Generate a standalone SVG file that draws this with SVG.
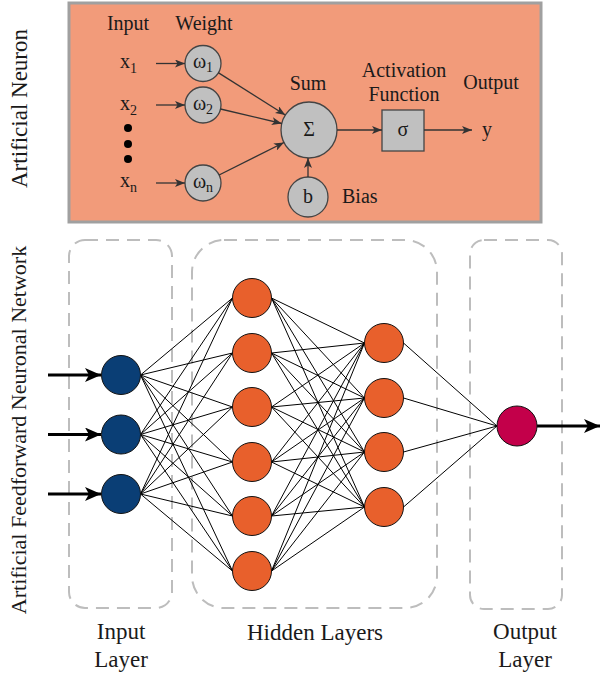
<svg xmlns="http://www.w3.org/2000/svg" width="600" height="676" viewBox="0 0 600 676">
<defs>
<marker id="ah" markerUnits="userSpaceOnUse" markerWidth="10" markerHeight="8" refX="10" refY="4" orient="auto">
<path d="M0,0 L10,4 L0,8 L2.5,4 z" fill="#333"/>
</marker>
<marker id="ahb" markerUnits="userSpaceOnUse" markerWidth="16" markerHeight="14" refX="16" refY="7" orient="auto">
<path d="M0,0 L16,7 L0,14 L4,7 z" fill="#000"/>
</marker>
</defs>

<g id="neuron-box">
<rect x="69" y="3" width="472" height="219" fill="#f29b7a" stroke="#a0a0a0" stroke-width="3"/>
</g>

<g id="side-labels">
<text font-family="Liberation Serif, Times New Roman, serif" font-size="23" fill="#1a1a1a" transform="translate(27,108.5) rotate(-90)" text-anchor="middle">Artificial Neuron</text>
<text font-family="Liberation Serif, Times New Roman, serif" font-size="22" fill="#1a1a1a" transform="translate(26,430) rotate(-90)" text-anchor="middle">Artificial Feedforward Neuronal Network</text>
</g>

<g id="neuron-labels">
<text font-family="Liberation Serif, Times New Roman, serif" font-size="20" fill="#1a1a1a" x="128" y="30" text-anchor="middle">Input</text>
<text font-family="Liberation Serif, Times New Roman, serif" font-size="20" fill="#1a1a1a" x="204" y="30" text-anchor="middle">Weight</text>
<text font-family="Liberation Serif, Times New Roman, serif" font-size="20" fill="#1a1a1a" x="308" y="90" text-anchor="middle">Sum</text>
<text font-family="Liberation Serif, Times New Roman, serif" font-size="20" fill="#1a1a1a" x="404" y="77" text-anchor="middle">Activation</text>
<text font-family="Liberation Serif, Times New Roman, serif" font-size="20" fill="#1a1a1a" x="404" y="101" text-anchor="middle">Function</text>
<text font-family="Liberation Serif, Times New Roman, serif" font-size="20" fill="#1a1a1a" x="491" y="89" text-anchor="middle">Output</text>
<text font-family="Liberation Serif, Times New Roman, serif" font-size="20" fill="#1a1a1a" x="342" y="203">Bias</text>
<text font-family="Liberation Serif, Times New Roman, serif" font-size="20" fill="#1a1a1a" x="487" y="136" text-anchor="middle">y</text>
</g>

<g id="inputs">
<text font-family="Liberation Serif, Times New Roman, serif" font-size="20" fill="#1a1a1a" x="120" y="68">x<tspan font-size="14" dy="5">1</tspan></text>
<text font-family="Liberation Serif, Times New Roman, serif" font-size="20" fill="#1a1a1a" x="120" y="110">x<tspan font-size="14" dy="5">2</tspan></text>
<text font-family="Liberation Serif, Times New Roman, serif" font-size="20" fill="#1a1a1a" x="120" y="187">x<tspan font-size="14" dy="5">n</tspan></text>
<circle cx="128" cy="128" r="4" fill="#000"/>
<circle cx="128" cy="144" r="4" fill="#000"/>
<circle cx="128" cy="159" r="4" fill="#000"/>
</g>

<g id="w1"><circle cx="203" cy="63.5" r="18" fill="#c0c0c0" stroke="#444" stroke-width="1.3"/><text font-family="Liberation Serif, Times New Roman, serif" font-size="20" fill="#1a1a1a" x="203" y="68" text-anchor="middle">ω<tspan font-size="14" dy="4">1</tspan></text></g>
<g id="w2"><circle cx="203" cy="105" r="18" fill="#c0c0c0" stroke="#444" stroke-width="1.3"/><text font-family="Liberation Serif, Times New Roman, serif" font-size="20" fill="#1a1a1a" x="203" y="109.5" text-anchor="middle">ω<tspan font-size="14" dy="4">2</tspan></text></g>
<g id="wn"><circle cx="203" cy="183" r="18" fill="#c0c0c0" stroke="#444" stroke-width="1.3"/><text font-family="Liberation Serif, Times New Roman, serif" font-size="20" fill="#1a1a1a" x="203" y="187.5" text-anchor="middle">ω<tspan font-size="14" dy="4">n</tspan></text></g>
<g id="sum"><circle cx="309" cy="130" r="28" fill="#c0c0c0" stroke="#444" stroke-width="1.3"/><text font-family="Liberation Serif, Times New Roman, serif" font-size="20" fill="#1a1a1a" x="309" y="136" text-anchor="middle">Σ</text></g>
<g id="bias"><circle cx="308" cy="197" r="20" fill="#c0c0c0" stroke="#444" stroke-width="1.3"/><text font-family="Liberation Serif, Times New Roman, serif" font-size="20" fill="#1a1a1a" x="308" y="203" text-anchor="middle">b</text></g>
<g id="sigma"><rect x="382" y="110" width="42" height="41" fill="#c0c0c0" stroke="#444" stroke-width="1.3"/><text font-family="Liberation Serif, Times New Roman, serif" font-size="20" fill="#1a1a1a" x="403" y="136" text-anchor="middle">σ</text></g>

<g id="neuron-connectors" stroke="#333" stroke-width="1.3" fill="none">
<line x1="156" y1="63.5" x2="185" y2="63.5" marker-end="url(#ah)"/>
<line x1="156" y1="105" x2="185" y2="105" marker-end="url(#ah)"/>
<line x1="156" y1="183" x2="185" y2="183" marker-end="url(#ah)"/>
<line x1="218.2" y1="72.6" x2="285.3" y2="115" marker-end="url(#ah)"/>
<line x1="220.5" y1="109" x2="281.8" y2="123.5" marker-end="url(#ah)"/>
<line x1="219.1" y1="175" x2="284" y2="142.5" marker-end="url(#ah)"/>
<line x1="308" y1="177" x2="308" y2="158" marker-end="url(#ah)"/>
<line x1="337" y1="130" x2="382" y2="130" marker-end="url(#ah)"/>
<line x1="424" y1="130" x2="472" y2="130" marker-end="url(#ah)"/>
</g>

<g id="layer-frames" fill="none" stroke="#bdbdbd" stroke-width="2" stroke-dasharray="13 8">
<rect x="69" y="240" width="103" height="368" rx="16"/>
<rect x="192" y="240" width="245" height="368" rx="32"/>
<rect x="470" y="240" width="92" height="369" rx="14"/>
</g>

<g id="connectors" stroke="#000" stroke-width="1">
<line x1="140.5" y1="375" x2="232.5" y2="298"/><line x1="140.5" y1="375" x2="232.5" y2="353"/><line x1="140.5" y1="375" x2="232.5" y2="407"/><line x1="140.5" y1="375" x2="232.5" y2="462"/><line x1="140.5" y1="375" x2="232.5" y2="516"/><line x1="140.5" y1="375" x2="232.5" y2="571"/>
<line x1="140.5" y1="434.5" x2="232.5" y2="298"/><line x1="140.5" y1="434.5" x2="232.5" y2="353"/><line x1="140.5" y1="434.5" x2="232.5" y2="407"/><line x1="140.5" y1="434.5" x2="232.5" y2="462"/><line x1="140.5" y1="434.5" x2="232.5" y2="516"/><line x1="140.5" y1="434.5" x2="232.5" y2="571"/>
<line x1="140.5" y1="494" x2="232.5" y2="298"/><line x1="140.5" y1="494" x2="232.5" y2="353"/><line x1="140.5" y1="494" x2="232.5" y2="407"/><line x1="140.5" y1="494" x2="232.5" y2="462"/><line x1="140.5" y1="494" x2="232.5" y2="516"/><line x1="140.5" y1="494" x2="232.5" y2="571"/>
<line x1="271.5" y1="298" x2="364.5" y2="343"/><line x1="271.5" y1="298" x2="364.5" y2="398"/><line x1="271.5" y1="298" x2="364.5" y2="452"/><line x1="271.5" y1="298" x2="364.5" y2="507"/>
<line x1="271.5" y1="353" x2="364.5" y2="343"/><line x1="271.5" y1="353" x2="364.5" y2="398"/><line x1="271.5" y1="353" x2="364.5" y2="452"/><line x1="271.5" y1="353" x2="364.5" y2="507"/>
<line x1="271.5" y1="407" x2="364.5" y2="343"/><line x1="271.5" y1="407" x2="364.5" y2="398"/><line x1="271.5" y1="407" x2="364.5" y2="452"/><line x1="271.5" y1="407" x2="364.5" y2="507"/>
<line x1="271.5" y1="462" x2="364.5" y2="343"/><line x1="271.5" y1="462" x2="364.5" y2="398"/><line x1="271.5" y1="462" x2="364.5" y2="452"/><line x1="271.5" y1="462" x2="364.5" y2="507"/>
<line x1="271.5" y1="516" x2="364.5" y2="343"/><line x1="271.5" y1="516" x2="364.5" y2="398"/><line x1="271.5" y1="516" x2="364.5" y2="452"/><line x1="271.5" y1="516" x2="364.5" y2="507"/>
<line x1="271.5" y1="571" x2="364.5" y2="343"/><line x1="271.5" y1="571" x2="364.5" y2="398"/><line x1="271.5" y1="571" x2="364.5" y2="452"/><line x1="271.5" y1="571" x2="364.5" y2="507"/>
<line x1="403.5" y1="343" x2="497" y2="426"/><line x1="403.5" y1="398" x2="497" y2="426"/><line x1="403.5" y1="452" x2="497" y2="426"/><line x1="403.5" y1="507" x2="497" y2="426"/>
<line stroke-width="3" x1="48" y1="375" x2="101" y2="375" marker-end="url(#ahb)"/>
<line stroke-width="3" x1="48" y1="434.5" x2="101" y2="434.5" marker-end="url(#ahb)"/>
<line stroke-width="3" x1="48" y1="494" x2="101" y2="494" marker-end="url(#ahb)"/>
<line stroke-width="3" x1="537" y1="426" x2="600" y2="426" marker-end="url(#ahb)"/>
</g>

<g id="in1"><circle cx="121" cy="375" r="19.5" fill="#0a3e75" stroke="#111"/></g>
<g id="in2"><circle cx="121" cy="434.5" r="19.5" fill="#0a3e75" stroke="#111"/></g>
<g id="in3"><circle cx="121" cy="494" r="19.5" fill="#0a3e75" stroke="#111"/></g>
<g id="h1a"><circle cx="252" cy="298" r="19.5" fill="#e8602c" stroke="#111"/></g>
<g id="h1b"><circle cx="252" cy="353" r="19.5" fill="#e8602c" stroke="#111"/></g>
<g id="h1c"><circle cx="252" cy="407" r="19.5" fill="#e8602c" stroke="#111"/></g>
<g id="h1d"><circle cx="252" cy="462" r="19.5" fill="#e8602c" stroke="#111"/></g>
<g id="h1e"><circle cx="252" cy="516" r="19.5" fill="#e8602c" stroke="#111"/></g>
<g id="h1f"><circle cx="252" cy="571" r="19.5" fill="#e8602c" stroke="#111"/></g>
<g id="h2a"><circle cx="384" cy="343" r="19.5" fill="#e8602c" stroke="#111"/></g>
<g id="h2b"><circle cx="384" cy="398" r="19.5" fill="#e8602c" stroke="#111"/></g>
<g id="h2c"><circle cx="384" cy="452" r="19.5" fill="#e8602c" stroke="#111"/></g>
<g id="h2d"><circle cx="384" cy="507" r="19.5" fill="#e8602c" stroke="#111"/></g>
<g id="out1"><circle cx="517" cy="426" r="20" fill="#c3004a" stroke="#111"/></g>

<g id="layer-labels">
<text font-family="Liberation Serif, Times New Roman, serif" font-size="23" fill="#1a1a1a" x="121" y="639" text-anchor="middle">Input</text>
<text font-family="Liberation Serif, Times New Roman, serif" font-size="23" fill="#1a1a1a" x="121" y="667" text-anchor="middle">Layer</text>
<text font-family="Liberation Serif, Times New Roman, serif" font-size="23" fill="#1a1a1a" x="315" y="640" text-anchor="middle">Hidden Layers</text>
<text font-family="Liberation Serif, Times New Roman, serif" font-size="23" fill="#1a1a1a" x="525" y="639" text-anchor="middle">Output</text>
<text font-family="Liberation Serif, Times New Roman, serif" font-size="23" fill="#1a1a1a" x="525" y="667" text-anchor="middle">Layer</text>
</g>
</svg>
